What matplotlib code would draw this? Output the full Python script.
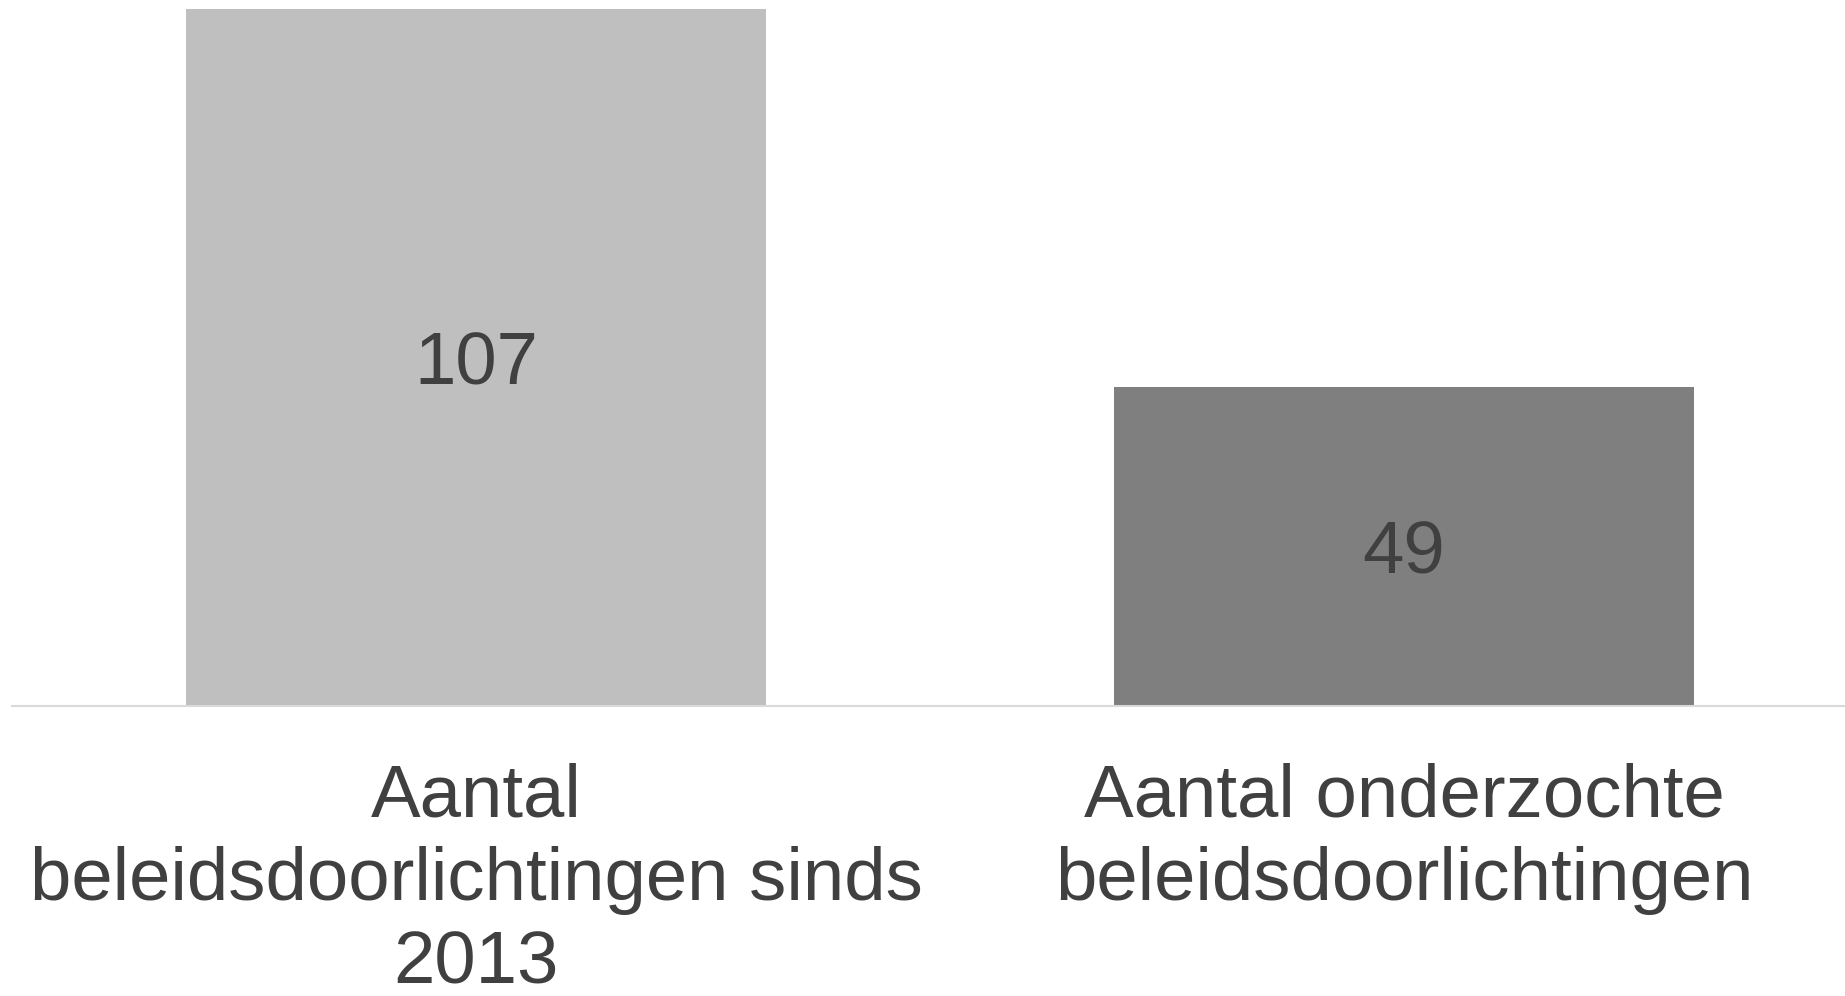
import matplotlib
matplotlib.use("Agg")
import matplotlib.pyplot as plt

categories = ["Aantal\nbeleidsdoorlichtingen sinds\n2013",
              "Aantal onderzochte\nbeleidsdoorlichtingen"]
values = [107, 49]
colors = ["#BFBFBF", "#7F7F7F"]

plt.rcParams['font.family'] = ['Liberation Sans', 'DejaVu Sans']
W, H = 1845, 996
fig = plt.figure(figsize=(W / 100, H / 100), dpi=100)
left, right = 12, 1845
bottom, top = 706, 9.4
ax = fig.add_axes([left / W, 1 - bottom / H, (right - left) / W, (bottom - top) / H])
spacing = 928
ax.set_xlim(-0.5, -0.5 + (right - left) / spacing)
ax.set_ylim(0, 107)
x = list(range(len(values)))
bars = ax.bar(x, values, width=0.625, color=colors, zorder=2)
for xi, v in zip(x, values):
    ax.annotate(str(v), (xi, v / 2), xytext=(0, -19.4), textcoords='offset points',
                ha='center', va='baseline', fontsize=53.6, color='#404040')
for s in ['top', 'right', 'left']:
    ax.spines[s].set_visible(False)
ax.spines['bottom'].set_color('#D9D9D9')
ax.spines['bottom'].set_linewidth(1.5)
ax.set_yticks([])
ax.set_xticks(x)
ax.set_xticklabels(categories, fontsize=53.6, color='#404040', linespacing=1.26)
ax.tick_params(axis='x', length=0, pad=41)
fig.savefig("out.png", dpi=100, facecolor='white')
